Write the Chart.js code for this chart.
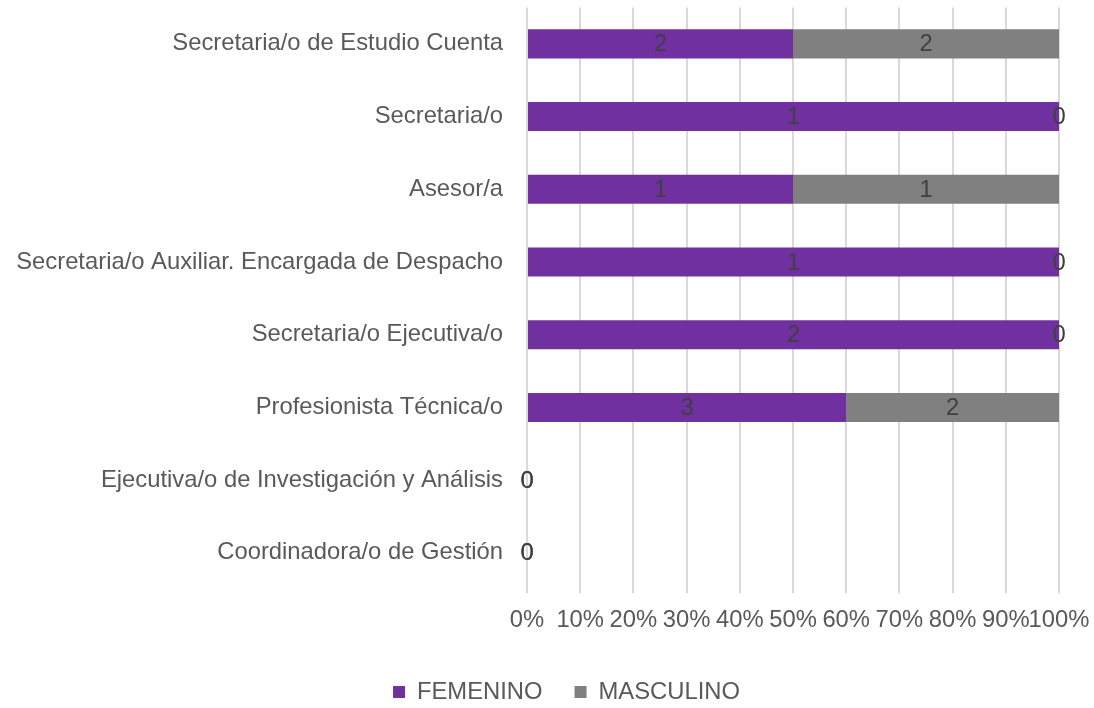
<!DOCTYPE html>
<html lang="es">
<head>
    <meta charset="UTF-8">
    <title>Personal por puesto y sexo</title>
    <script src="https://cdn.jsdelivr.net/npm/chart.js"></script>
    <style>
        body { margin: 0; background: #fff; }
        #wrap { width: 1094px; height: 708px; }
    </style>
</head>
<body>
    <div id="wrap"><canvas id="chart" width="1094" height="708"></canvas></div>
    <script>
        // datos
        const puestos = [
            'Secretaria/o de Estudio Cuenta',
            'Secretaria/o',
            'Asesor/a',
            'Secretaria/o Auxiliar. Encargada de Despacho',
            'Secretaria/o Ejecutiva/o',
            'Profesionista Técnica/o',
            'Ejecutiva/o de Investigación y Análisis',
            'Coordinadora/o de Gestión'
        ];
        const femenino = [2, 1, 1, 1, 2, 3, 0, 0];
        const masculino = [2, 0, 1, 0, 0, 2, 0, 0];
        const ticksX = [0, 10, 20, 30, 40, 50, 60, 70, 80, 90, 100];

        // porcentaje de cada fila (100% apilado)
        function pct(arr) {
            return arr.map((v, i) => {
                const total = femenino[i] + masculino[i];
                return total ? v / total * 100 : 0;
            });
        }

        const textColor = '#595959';
        const fontFam = "'Liberation Sans', Arial, sans-serif";
        const fs = 23.8;

        // etiquetas de datos con el valor absoluto
        const etiquetas = {
            id: 'etiquetas',
            afterDatasetsDraw(chart) {
                const ctx = chart.ctx;
                ctx.save();
                ctx.font = fs + 'px ' + fontFam;
                ctx.fillStyle = '#404040';
                ctx.textAlign = 'center';
                ctx.textBaseline = 'middle';
                chart.data.datasets.forEach((ds, di) => {
                    const meta = chart.getDatasetMeta(di);
                    meta.data.forEach((el, i) => {
                        const x = (el.x + el.base) / 2;
                        ctx.fillText(String(ds.raw[i]), x, el.y + 1);
                    });
                });
                ctx.restore();
            }
        };

        // mover la leyenda un poco (como en el original)
        const moverLeyenda = {
            id: 'moverLeyenda',
            afterLayout(chart) {
                const lg = chart.legend;
                if (!lg) return;
                lg.left += 37; lg.right += 37;
                lg.top += 6; lg.bottom += 6;
            }
        };

        new Chart(document.getElementById('chart'), {
            type: 'bar',
            data: {
                labels: puestos,
                datasets: [
                    {
                        label: 'FEMENINO',
                        data: pct(femenino),
                        raw: femenino,
                        backgroundColor: '#7030A0',
                        categoryPercentage: 0.8,
                        barPercentage: 0.5
                    },
                    {
                        label: 'MASCULINO',
                        data: pct(masculino),
                        raw: masculino,
                        backgroundColor: '#808080',
                        categoryPercentage: 0.8,
                        barPercentage: 0.5
                    }
                ]
            },
            options: {
                indexAxis: 'y',
                responsive: false,
                animation: false,
                layout: { padding: { top: 0, right: 35, left: 0, bottom: 0 } },
                scales: {
                    x: {
                        stacked: true,
                        min: 0,
                        max: 100,
                        afterBuildTicks(scale) {
                            scale.ticks = ticksX.map(v => ({ value: v }));
                        },
                        ticks: {
                            color: textColor,
                            font: { size: fs, family: fontFam, lineHeight: 2.25 },
                            padding: 0,
                            maxRotation: 0,
                            autoSkip: false,
                            callback: v => v + '%'
                        },
                        grid: { color: '#D9D9D9', lineWidth: 2, tickLength: 4, tickColor: '#D9D9D9' },
                        border: { display: false },
                        afterFit(scale) { scale.height = 53; }
                    },
                    y: {
                        stacked: true,
                        ticks: {
                            color: textColor,
                            font: { size: fs, family: fontFam, lineHeight: 0.63 },
                            padding: 0
                        },
                        grid: {
                            display: true,
                            drawOnChartArea: false,
                            drawTicks: true,
                            tickLength: 24,
                            color: 'rgba(0,0,0,0)',
                            tickColor: 'rgba(0,0,0,0)'
                        },
                        border: { display: false },
                        afterFit(scale) { scale.width = 527; }
                    }
                },
                plugins: {
                    legend: {
                        position: 'bottom',
                        labels: {
                            color: textColor,
                            font: { size: fs, family: fontFam },
                            boxWidth: 12,
                            boxHeight: 12,
                            padding: 32
                        }
                    },
                    tooltip: { enabled: false }
                }
            },
            plugins: [etiquetas, moverLeyenda]
        });
    </script>
</body>
</html>
